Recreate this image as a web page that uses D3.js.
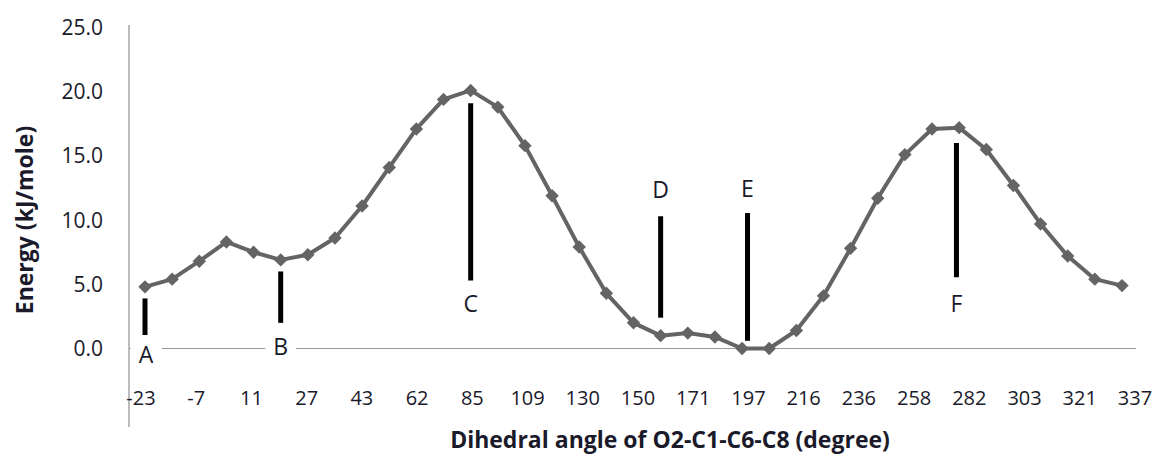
<!DOCTYPE html>
<html>
<head>
<meta charset="utf-8">
<script src="https://cdn.jsdelivr.net/npm/d3@7"></script>
<style>
    body { margin: 0; background: #fff; }
    text { font-family: "Open Sans", sans-serif; fill: #1a1a2a; }
</style>
</head>
<body>
<svg id="energySvg" width="1158" height="456"></svg>
<script>
//global data - energy at each scanned dihedral step
const energy = [4.8, 5.4, 6.8, 8.3, 7.5, 6.9, 7.3, 8.6, 11.1, 14.1, 17.1, 19.4, 20.1,
    18.8, 15.8, 11.9, 7.9, 4.3, 2.0, 1.0, 1.2, 0.9, 0.0, 0.0, 1.4, 4.1, 7.8, 11.7,
    15.1, 17.1, 17.2, 15.5, 12.7, 9.7, 7.2, 5.4, 4.9];

//angle labels shown on the x axis (every second step)
const angleLabels = ['-23', '-7', '11', '27', '43', '62', '85', '109', '130', '150',
    '171', '197', '216', '236', '258', '282', '303', '321', '337'];

//y axis ticks
const yTicks = [0, 5, 10, 15, 20, 25];

//marked conformers: step index, bar from/to energy, label energy
const markNames = ['A', 'B', 'C', 'D', 'E', 'F'];
const markIndex = [0, 5, 12, 19, 22.2, 29.9];
const markTop = [3.9, 6.0, 19.1, 10.3, 10.55, 16.0];
const markBottom = [1.05, 2.0, 5.3, 2.4, 0.6, 5.55];
const markLabelAt = [-1.15, -0.5, 2.85, 11.7, 11.8, 2.85];

document.addEventListener('DOMContentLoaded', function(){
    createEnergyChart();
});

function createEnergyChart(){
    const svg = d3.select('#energySvg');
    svg.selectAll('*').remove();

    //scales
    var xScale = d3.scaleLinear()
        .domain([0, energy.length - 1])
        .range([145, 1122]);

    var tickScale = d3.scalePoint()
        .domain(angleLabels)
        .range([141, 1135]);

    var yScale = d3.scaleLinear()
        .domain([0, 25])
        .range([348.5, 27.5]);

    //y axis line
    svg.append('line')
        .attr('x1', 129).attr('x2', 129)
        .attr('y1', 25).attr('y2', 427)
        .attr('stroke', '#a6a6a6')
        .attr('stroke-width', 1.5);

    //zero line
    svg.append('line')
        .attr('x1', 129).attr('x2', 1136)
        .attr('y1', yScale(0)).attr('y2', yScale(0))
        .attr('stroke', '#9a9a9a')
        .attr('stroke-width', 1.2);

    //y tick labels
    svg.selectAll('.yTick')
        .data(yTicks)
        .enter()
        .append('text')
            .attr('class', 'yTick')
            .attr('x', 103)
            .attr('y', d => yScale(d))
            .attr('dy', '0.36em')
            .attr('text-anchor', 'end')
            .attr('font-size', '21px')
            .text(d => d.toFixed(1));

    //x tick labels
    svg.selectAll('.xTick')
        .data(angleLabels)
        .enter()
        .append('text')
            .attr('class', 'xTick')
            .attr('x', d => tickScale(d))
            .attr('y', 405)
            .attr('text-anchor', 'middle')
            .attr('font-size', '20px')
            .text(d => d);

    //axis titles
    svg.append('text')
        .attr('x', 670)
        .attr('y', 448)
        .attr('text-anchor', 'middle')
        .attr('font-size', '23px')
        .attr('font-weight', 'bold')
        .text('Dihedral angle of O2-C1-C6-C8 (degree)');

    svg.append('text')
        .attr('transform', 'translate(33, 220) rotate(-90)')
        .attr('text-anchor', 'middle')
        .attr('font-size', '23px')
        .attr('font-weight', 'bold')
        .text('Energy (kJ/mole)');

    //energy line
    const line = d3.line()
        .x((d, i) => xScale(i))
        .y(d => yScale(d));

    svg.append('path')
        .datum(energy)
        .attr('fill', 'none')
        .attr('stroke', '#646464')
        .attr('stroke-width', 4)
        .attr('stroke-linejoin', 'round')
        .attr('d', line);

    //diamond markers
    const diamond = d3.symbol().type(d3.symbolSquare).size(90);
    svg.selectAll('.marker')
        .data(energy)
        .enter()
        .append('path')
            .attr('class', 'marker')
            .attr('d', diamond)
            .attr('transform', (d, i) => `translate(${xScale(i)}, ${yScale(d)}) rotate(45)`)
            .attr('fill', '#646464');

    //conformer bars
    svg.selectAll('.markBar')
        .data(markNames)
        .enter()
        .append('line')
            .attr('class', 'markBar')
            .attr('x1', (d, i) => xScale(markIndex[i]))
            .attr('x2', (d, i) => xScale(markIndex[i]))
            .attr('y1', (d, i) => yScale(markTop[i]))
            .attr('y2', (d, i) => yScale(markBottom[i]))
            .attr('stroke', '#000')
            .attr('stroke-width', 5);

    //conformer letters, A and B sit on the zero line with a white box
    const labels = svg.selectAll('.markLabel')
        .data(markNames)
        .enter()
        .append('g')
            .attr('class', 'markLabel');

    labels.append('rect')
        .attr('fill', '#fff');

    labels.append('text')
        .attr('x', (d, i) => xScale(markIndex[i]) + (i == 0 ? 1 : 0))
        .attr('y', (d, i) => yScale(markLabelAt[i]))
        .attr('text-anchor', 'middle')
        .attr('font-size', '23px')
        .text(d => d);

    labels.each(function(d, i){
        if(i > 1) return;
        const box = d3.select(this).select('text').node().getBBox();
        d3.select(this).select('rect')
            .attr('x', box.x - 8)
            .attr('y', box.y + 2)
            .attr('width', box.width + 16)
            .attr('height', box.height - 4);
    });
}
</script>
</body>
</html>
